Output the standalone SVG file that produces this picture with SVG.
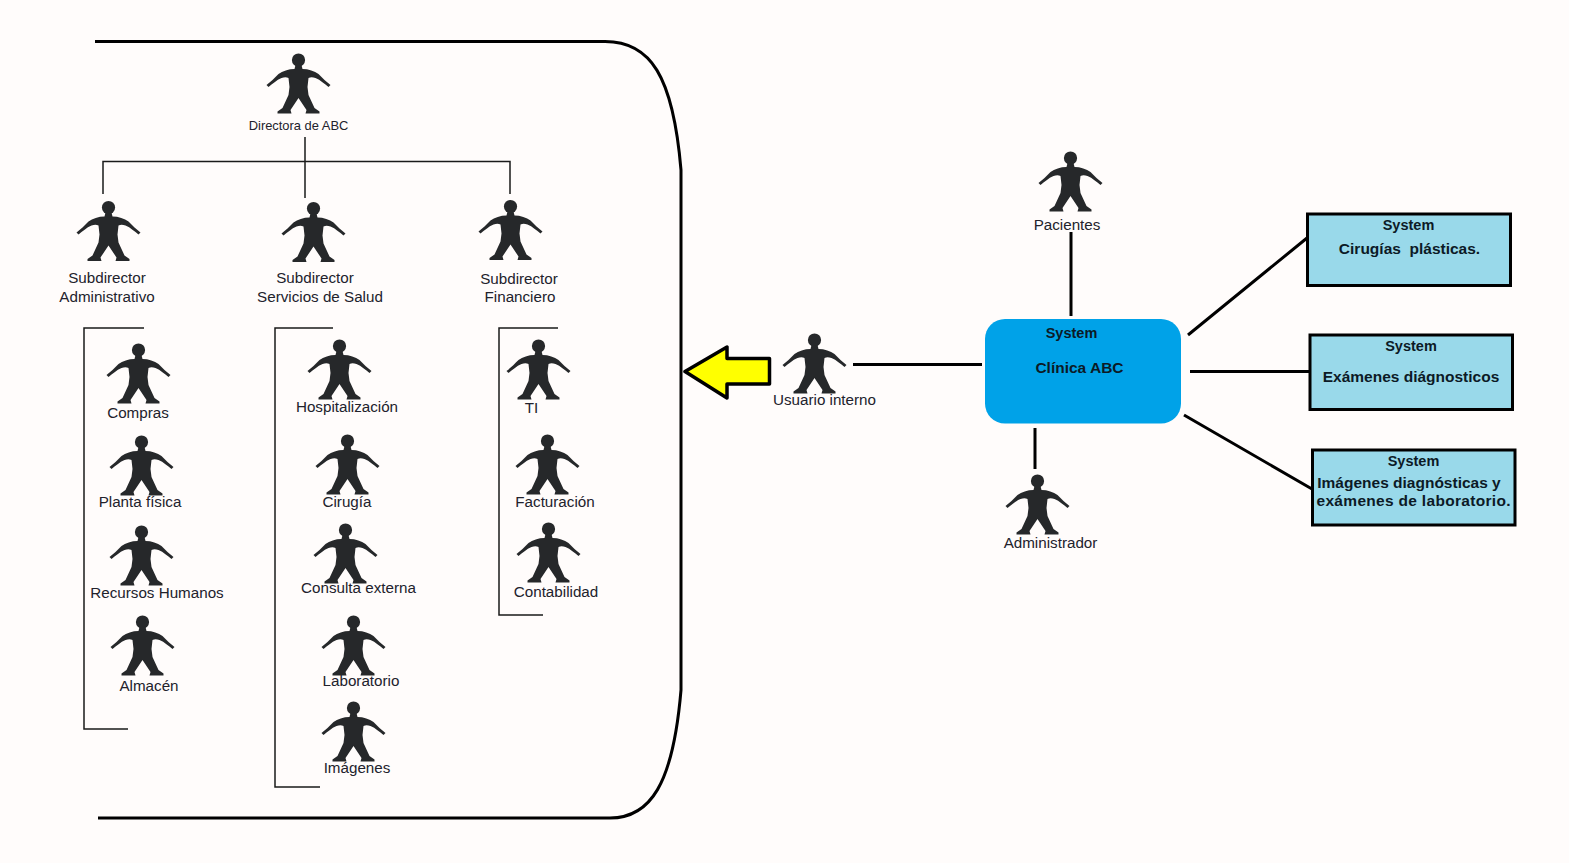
<svg xmlns="http://www.w3.org/2000/svg" width="1569" height="863" viewBox="0 0 1569 863">
<style>
text{font-family:"Liberation Sans",Arial,sans-serif;font-size:15.2px;fill:#22222c;text-anchor:middle}
.small{font-size:12.9px}
.s{font-size:15.5px;font-weight:bold;fill:#0c1a26}
.thin{fill:none;stroke:#1a1a1a;stroke-width:1.5}
.thick{fill:none;stroke:#000;stroke-width:3}
.box{fill:#99d9ea;stroke:#000;stroke-width:3}
</style>
<defs>
<g id="actor"><circle cx="0" cy="0" r="6.6" fill="#26282a"/><path fill="#26282a" d="M-3 5L3 5L4 9C10 9 16 11 20 14C24 18 28 22 32 25L30 27C26 24 22 20 17 18C14 17 12 17 10 18L9 27L10 35L16 48L21 51.500L21 53.500L7 53.500L8 50L0 38L-8 50L-7 53.500L-21 53.500L-21 51.500L-16 48L-10 35L-9 27L-10 18C-12 17 -14 17 -17 18C-22 20 -26 24 -30 27L-32 25C-28 22 -24 18 -20 14C-16 11 -10 9 -4 9Z"/></g>
</defs>
<rect width="1569" height="863" fill="#fffcfb"/>
<g id="connectors">
<path class="thick" d="M95 41.500H605C650 41.500 673 75 681 170V690C673 785 650 818 610 818H98"/>
<path class="thin" d="M305 137V198M103 194V161.500H510V194"/>
<path class="thin" d="M144 328H84V729H128"/>
<path class="thin" d="M333 328H275V787H320"/>
<path class="thin" d="M558 328H499V615H543"/>
<path class="thick" d="M1071 232V316M1035 428V469M853 364.500H982M1188 335L1307 238M1190 371.500H1310M1184 415L1312 489"/>
</g>
<g id="arrow"><path d="M685 371.500L727 347V358.500H769.500V384H727V398Z" fill="#ffff00" stroke="#000" stroke-width="3.500" stroke-linejoin="round"/></g>
<g id="directora"><use href="#actor" x="298.500" y="60"/><text class="small" x="298.500" y="130">Directora de ABC</text></g>
<g id="sub-admin"><use href="#actor" x="108.500" y="207.500"/><text x="107" y="283">Subdirector</text><text x="107" y="301.500">Administrativo</text></g>
<g id="sub-salud"><use href="#actor" x="313.500" y="208.500"/><text x="315" y="283">Subdirector</text><text x="320" y="301.500">Servicios de Salud</text></g>
<g id="sub-fin"><use href="#actor" x="510.500" y="206.500"/><text x="519" y="283.500">Subdirector</text><text x="520" y="302">Financiero</text></g>
<g id="compras"><use href="#actor" x="138.500" y="350"/><text x="138" y="417.500">Compras</text></g>
<g id="planta"><use href="#actor" x="141.500" y="442"/><text x="140" y="507">Planta física</text></g>
<g id="rrhh"><use href="#actor" x="141.500" y="532"/><text x="157" y="598">Recursos Humanos</text></g>
<g id="almacen"><use href="#actor" x="142.500" y="622"/><text x="149" y="691">Almacén</text></g>
<g id="hosp"><use href="#actor" x="339.500" y="346"/><text x="347" y="412">Hospitalización</text></g>
<g id="cirugia"><use href="#actor" x="347.500" y="441"/><text x="347" y="507">Cirugía</text></g>
<g id="consulta"><use href="#actor" x="345.500" y="530"/><text x="358.500" y="593">Consulta externa</text></g>
<g id="lab"><use href="#actor" x="353.500" y="622"/><text x="361" y="686">Laboratorio</text></g>
<g id="imag"><use href="#actor" x="353.500" y="708"/><text x="357" y="772.500">Imágenes</text></g>
<g id="ti"><use href="#actor" x="538.500" y="346"/><text x="531.500" y="413">TI</text></g>
<g id="fact"><use href="#actor" x="547.500" y="441"/><text x="555" y="507">Facturación</text></g>
<g id="cont"><use href="#actor" x="548.500" y="529"/><text x="556" y="597">Contabilidad</text></g>
<g id="usuario"><use href="#actor" x="814.500" y="340"/><text x="824.500" y="405">Usuario interno</text></g>
<g id="pacientes"><use href="#actor" x="1070.500" y="158"/><text x="1067" y="229.500">Pacientes</text></g>
<g id="admin"><use href="#actor" x="1037.500" y="481"/><text x="1050.500" y="547.500">Administrador</text></g>
<g id="clinica"><rect x="985" y="319" width="196" height="104.500" rx="20" fill="#00a2e8"/><text class="s" x="1071.500" y="338" font-size="14.500" style="font-size:14.500px">System</text><text class="s" x="1079.500" y="373">Clínica ABC</text></g>
<g id="sys-cirugias"><rect class="box" x="1307.500" y="214" width="203" height="71.500"/><text class="s" x="1408.500" y="230" style="font-size:14.500px">System</text><text class="s" x="1409.500" y="254" xml:space="preserve">Cirugías  plásticas.</text></g>
<g id="sys-examenes"><rect class="box" x="1310" y="335" width="202.500" height="74.500"/><text class="s" x="1411" y="350.500" style="font-size:14.500px">System</text><text class="s" x="1411" y="382">Exámenes diágnosticos</text></g>
<g id="sys-imagenes"><rect class="box" x="1312.500" y="450" width="202.500" height="75"/><text class="s" x="1413.500" y="466" style="font-size:14.500px">System</text><text class="s" x="1409" y="488">Imágenes diagnósticas y</text><text class="s" x="1413.500" y="506" textLength="194">exámenes de laboratorio.</text></g>
</svg>
